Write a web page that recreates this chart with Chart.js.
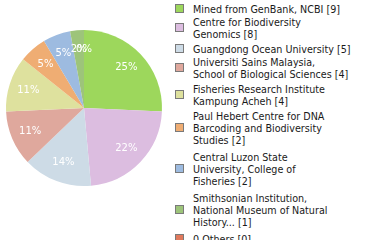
<!DOCTYPE html>
<html>
<head>
<meta charset="utf-8">
<script src="https://cdn.jsdelivr.net/npm/chart.js@4/dist/chart.umd.min.js"></script>
<style>
  html, body { margin: 0; padding: 0; background: #fff; }
  #wrap { position: relative; width: 380px; height: 240px; overflow: hidden; }
  #pie { position: absolute; left: 0; top: 0; }
  #legend { position: absolute; left: 175px; top: 4px; width: 205px;
            font-family: "DejaVu Sans", sans-serif; font-size: 9.6px; color: #1a1a1a; }
  .item { display: flex; align-items: center; }
  .box { width: 7px; height: 7px; border: 1px solid #7a7a7a; flex: none; margin-right: 9px; margin-top: -3px; }
  .txt { line-height: 12px; white-space: nowrap; }
</style>
</head>
<body>
<div id="wrap">
  <canvas id="pie" width="170" height="240"></canvas>
  <div id="legend"></div>
</div>
<script>
// Depositing institutions, each label split into its display lines
const institutions = [
  ["Mined from GenBank, NCBI [9]"],
  ["Centre for Biodiversity", "Genomics [8]"],
  ["Guangdong Ocean University [5]"],
  ["Universiti Sains Malaysia,", "School of Biological Sciences [4]"],
  ["Fisheries Research Institute", "Kampung Acheh [4]"],
  ["Paul Hebert Centre for DNA", "Barcoding and Biodiversity", "Studies [2]"],
  ["Central Luzon State", "University, College of", "Fisheries [2]"],
  ["Smithsonian Institution,", "National Museum of Natural", "History... [1]"],
  ["0 Others [0]"]
];
const recordCounts = [9, 8, 5, 4, 4, 2, 2, 1, 0];
const sliceColors = ["#9dd75c", "#dcbde0", "#cddbe6", "#dfa89d", "#dee19e",
                     "#efad73", "#9dbbe0", "#9dc47a", "#e0795c"];

// White percentage labels inside each slice (truncated to whole percent)
const percentLabels = {
  id: "percentLabels",
  afterDatasetsDraw(chart) {
    const ctx = chart.ctx;
    const data = chart.data.datasets[0].data;
    const total = data.reduce((a, b) => a + b, 0);
    const meta = chart.getDatasetMeta(0);
    ctx.save();
    ctx.fillStyle = "#ffffff";
    ctx.font = "10px 'DejaVu Sans', sans-serif";
    ctx.textAlign = "center";
    ctx.textBaseline = "middle";
    meta.data.forEach((arc, i) => {
      const p = arc.getProps(["x", "y", "startAngle", "endAngle", "outerRadius"], true);
      const mid = (p.startAngle + p.endAngle) / 2;
      const r = p.outerRadius * 0.75;
      const pct = Math.floor(data[i] / total * 100) + "%";
      ctx.fillText(pct, p.x + Math.cos(mid) * r, p.y + Math.sin(mid) * r);
    });
    ctx.restore();
  }
};

const chart = new Chart(document.getElementById("pie"), {
  type: "pie",
  data: {
    labels: institutions,
    datasets: [{
      data: recordCounts,
      backgroundColor: sliceColors,
      borderWidth: 0
    }]
  },
  options: {
    responsive: false,
    animation: false,
    layout: { padding: { left: 6, right: 8, top: 30, bottom: 54 } },
    plugins: { legend: { display: false }, tooltip: { enabled: false } }
  },
  plugins: [percentLabels]
});

// Legend to the right of the pie, built from the chart's own labels and colours
const legendEl = document.getElementById("legend");
chart.data.labels.forEach((lines, i) => {
  const item = document.createElement("div");
  item.className = "item";
  item.style.marginBottom = (1 + (lines.length - 1) * 2) + "px";
  const box = document.createElement("span");
  box.className = "box";
  box.style.background = chart.data.datasets[0].backgroundColor[i];
  const txt = document.createElement("div");
  txt.className = "txt";
  txt.innerHTML = lines.map(l => l.replace(/&/g, "&amp;").replace(/</g, "&lt;")).join("<br>");
  item.appendChild(box);
  item.appendChild(txt);
  legendEl.appendChild(item);
});
</script>
</body>
</html>
